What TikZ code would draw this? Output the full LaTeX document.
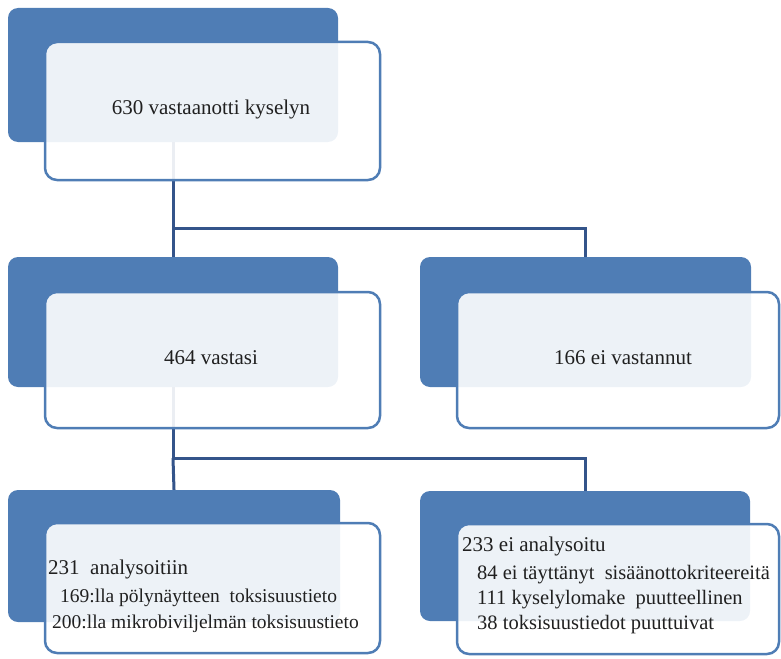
\documentclass[tikz,border=0pt]{standalone}
\usepackage{fontspec}
\setmainfont{Liberation Serif}
\definecolor{backblue}{HTML}{4F7DB5}
\definecolor{edgeblue}{HTML}{4F7DB5}
\definecolor{linkblue}{HTML}{34548A}
\definecolor{textgray}{HTML}{202020}
\begin{document}
\begin{tikzpicture}[x=1pt,y=-1pt,
  backbox/.style={draw=none,fill=backblue,rounded corners=10pt,inner sep=0pt},
  frontbox/.style={draw=edgeblue,line width=2.5pt,fill=white,fill opacity=0.9,rounded corners=12pt,inner sep=0pt},
  link/.style={draw=linkblue,line width=3pt},
  bigtxt/.style={font=\fontsize{21}{24}\selectfont,text=textgray,inner sep=0pt},
  subtxt/.style={font=\fontsize{19.5}{22}\selectfont,text=textgray,inner sep=0pt,anchor=base west},
  subtxtr/.style={subtxt,font=\fontsize{20.5}{23}\selectfont}
]
\useasboundingbox (0,0) rectangle (781,658);
% back boxes
\node[backbox,minimum width=330pt,minimum height=134pt] (b1) at (173,75) {};
\node[backbox,minimum width=330pt,minimum height=130pt] (b2) at (173,322) {};
\node[backbox,minimum width=331pt,minimum height=130pt] (b3) at (585.5,322) {};
\node[backbox,minimum width=332pt,minimum height=132pt] (b4) at (174,556) {};
\node[backbox,minimum width=330pt,minimum height=130pt] (b5) at (585,556) {};
% connectors
\coordinate (j1) at (173,228);
\coordinate (j2) at (173,458);
\draw[link] (b1.south) -- (j1) -| (b3.north);
\draw[link] (j1) -- (b2.north);
\draw[link] (b2.south) -- (j2) -| (b5.north);
\draw[link] (j2) -- (b4.north);
% front boxes
\node[frontbox,minimum width=335pt,minimum height=138pt] (f1) at (212.5,111) {};
\node[frontbox,minimum width=335pt,minimum height=136pt] (f2) at (212.5,360) {};
\node[frontbox,minimum width=322pt,minimum height=136pt] (f3) at (618,360) {};
\node[frontbox,minimum width=335pt,minimum height=130pt] (f4) at (212.5,588) {};
\node[frontbox,minimum width=322pt,minimum height=130pt] (f5) at (618,589) {};
% texts
\node[bigtxt,anchor=base] (t1) at (211,114) {630 vastaanotti kyselyn};
\node[bigtxt,anchor=base] (t2) at (211,364) {464 vastasi};
\node[bigtxt,anchor=base] (t3) at (623,364) {166 ei vastannut};
\node[bigtxt,anchor=base west] (t4) at (48,574) {231\ \ analysoitiin};
\node[subtxt] (t4a) at (60,602) {169:lla pölynäytteen\ \ toksisuustieto};
\node[subtxt] (t4b) at (52,628) {200:lla mikrobiviljelmän toksisuustieto};
\node[bigtxt,anchor=base west] (t5) at (462,551) {233 ei analysoitu};
\node[subtxtr] (t5a) at (477,579) {84 ei täyttänyt\ \ sisäänottokriteereitä};
\node[subtxtr] (t5b) at (477,604) {111 kyselylomake\ \ puutteellinen};
\node[subtxtr] (t5c) at (477,629) {38 toksisuustiedot puuttuivat};
\end{tikzpicture}
\end{document}
